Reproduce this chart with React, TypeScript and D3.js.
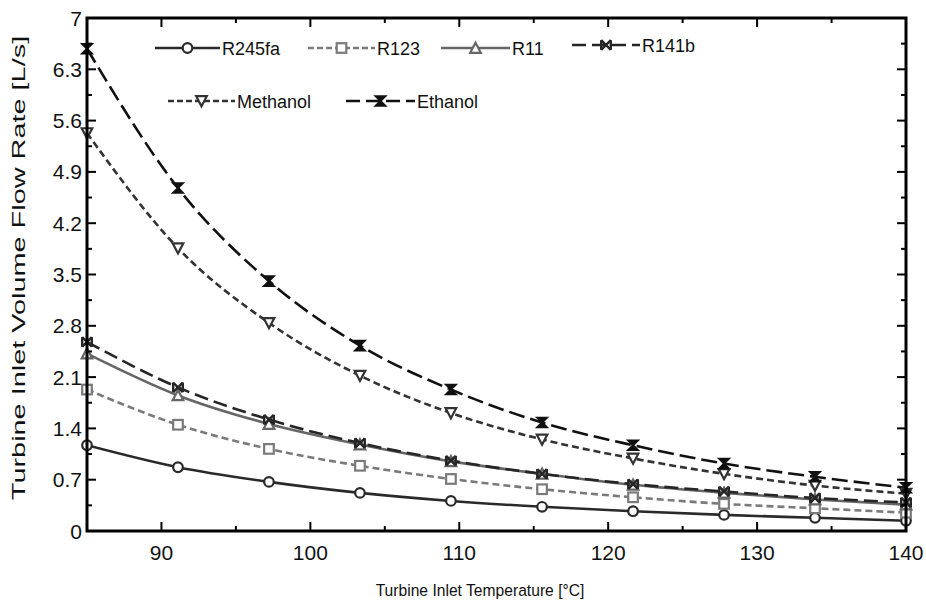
import React from "react";
import * as d3 from "d3";

const temps = [85, 91.11, 97.22, 103.33, 109.44, 115.56, 121.67, 127.78, 133.89, 140];
const r245fa = [1.17, 0.87, 0.67, 0.52, 0.41, 0.33, 0.27, 0.22, 0.18, 0.14];
const r123 = [1.93, 1.45, 1.12, 0.89, 0.71, 0.57, 0.46, 0.37, 0.31, 0.25];
const r11 = [2.42, 1.85, 1.46, 1.18, 0.95, 0.78, 0.63, 0.52, 0.43, 0.36];
const r141b = [2.58, 1.96, 1.52, 1.2, 0.96, 0.78, 0.64, 0.54, 0.45, 0.39];
const methanol = [5.43, 3.86, 2.84, 2.12, 1.61, 1.25, 0.99, 0.78, 0.62, 0.51];
const ethanol = [6.58, 4.68, 3.41, 2.53, 1.93, 1.48, 1.17, 0.92, 0.74, 0.59];

const xTicks = [90, 100, 110, 120, 130, 140];
const xMinor = [95, 105, 115, 125, 135];
const yTicks = [0, 0.7, 1.4, 2.1, 2.8, 3.5, 4.2, 4.9, 5.6, 6.3, 7];
const yTickLabels = ["0", "0.7", "1.4", "2.1", "2.8", "3.5", "4.2", "4.9", "5.6", "6.3", "7"];
const yMinor = [0.35, 1.05, 1.75, 2.45, 3.15, 3.85, 4.55, 5.25, 5.95, 6.65];

type S = { name: string; values: number[]; color: string; dash: string; legendDash: string; marker: string };
const series: S[] = [
  { name: "R245fa", values: r245fa, color: "#2a2a2a", dash: "none", legendDash: "none", marker: "circle" },
  { name: "R123", values: r123, color: "#7a7a7a", dash: "7,4", legendDash: "6,3", marker: "square" },
  { name: "R11", values: r11, color: "#666666", dash: "none", legendDash: "none", marker: "triUp" },
  { name: "R141b", values: r141b, color: "#262626", dash: "14,6", legendDash: "14,6", marker: "bowtie" },
  { name: "Methanol", values: methanol, color: "#333333", dash: "7,4", legendDash: "6,3", marker: "triDown" },
  { name: "Ethanol", values: ethanol, color: "#111111", dash: "16,6", legendDash: "14,6", marker: "hourglass" },
];

const legendPos = [
  { x1: 155, x2: 220, y: 48 },
  { x1: 308, x2: 375, y: 48 },
  { x1: 441, x2: 510, y: 48 },
  { x1: 572, x2: 640, y: 45 },
  { x1: 168, x2: 235, y: 101 },
  { x1: 346, x2: 415, y: 101 },
];

const FONT = "'Liberation Sans', Arial, sans-serif";

function Marker({ type, x, y, color }: { type: string; x: number; y: number; color: string }) {
  const s = 4.8;
  switch (type) {
    case "circle":
      return <circle cx={x} cy={y} r={s} fill="white" stroke={color} strokeWidth={2.2} />;
    case "square":
      return <rect x={x - s} y={y - s} width={2 * s} height={2 * s} fill="white" stroke={color} strokeWidth={2.2} />;
    case "triUp":
      return <path d={`M${x},${y - s - 0.5}L${x + s + 0.5},${y + s}L${x - s - 0.5},${y + s}Z`} fill="white" stroke={color} strokeWidth={2.2} />;
    case "triDown":
      return <path d={`M${x},${y + s + 0.5}L${x + s + 0.5},${y - s}L${x - s - 0.5},${y - s}Z`} fill="white" stroke={color} strokeWidth={2.2} />;
    case "bowtie":
      return (
        <g stroke={color} strokeWidth={2.4} fill={color}>
          <path d={`M${x - s},${y - s}L${x + s},${y + s}M${x + s},${y - s}L${x - s},${y + s}`} />
          <line x1={x - s} y1={y - s} x2={x - s} y2={y + s} />
          <line x1={x + s} y1={y - s} x2={x + s} y2={y + s} />
        </g>
      );
    case "hourglass":
      return (
        <path
          d={`M${x - s},${y - s}L${x + s},${y - s}L${x - s},${y + s}L${x + s},${y + s}Z`}
          fill={color}
          stroke={color}
          strokeWidth={2}
        />
      );
    default:
      return null;
  }
}

export default function App() {
  const W = 926, H = 600;
  const left = 87, right = 906, top = 18, bottom = 531;
  const x = d3.scaleLinear().domain([85, 140]).range([left, right]);
  const y = d3.scaleLinear().domain([0, 7]).range([bottom, top]);
  const line = d3
    .line<number>()
    .x((_, i) => x(temps[i]))
    .y((v) => y(v))
    .curve(d3.curveMonotoneX);

  const majLen = 9, minLen = 5;

  return (
    <svg width={W} height={H} style={{ position: "absolute", left: 0, top: 0, background: "white" }}>
      <rect x={0} y={0} width={W} height={H} fill="white" />
      <defs>
        <clipPath id="plot">
          <rect x={left} y={top} width={right - left} height={bottom - top} />
        </clipPath>
      </defs>
      <g clipPath="url(#plot)">
        {series.map((s) => (
          <path
            key={s.name}
            d={line(s.values) || ""}
            fill="none"
            stroke={s.color}
            strokeWidth={2.6}
            strokeDasharray={s.dash}
          />
        ))}
      </g>
      {series.map((s) => (
        <g key={s.name + "m"}>
          {s.values.map((v, i) => (
            <Marker key={i} type={s.marker} x={x(temps[i])} y={y(v)} color={s.color} />
          ))}
        </g>
      ))}

      <g stroke="black" strokeWidth={2}>
        {xTicks.map((t) => (
          <g key={"xt" + t}>
            <line x1={x(t)} x2={x(t)} y1={bottom} y2={bottom - majLen} />
            <line x1={x(t)} x2={x(t)} y1={top} y2={top + majLen} />
          </g>
        ))}
        {xMinor.map((t) => (
          <g key={"xm" + t}>
            <line x1={x(t)} x2={x(t)} y1={bottom} y2={bottom - minLen} />
            <line x1={x(t)} x2={x(t)} y1={top} y2={top + minLen} />
          </g>
        ))}
        {yTicks.map((t) => (
          <g key={"yt" + t}>
            <line x1={left} x2={left + majLen} y1={y(t)} y2={y(t)} />
            <line x1={right} x2={right - majLen} y1={y(t)} y2={y(t)} />
          </g>
        ))}
        {yMinor.map((t) => (
          <g key={"ym" + t}>
            <line x1={left} x2={left + minLen} y1={y(t)} y2={y(t)} />
            <line x1={right} x2={right - minLen} y1={y(t)} y2={y(t)} />
          </g>
        ))}
      </g>
      <rect x={left} y={top} width={right - left} height={bottom - top} fill="none" stroke="black" strokeWidth={3} />

      {xTicks.map((t) => (
        <text key={"xl" + t} x={x(t)} y={bottom + 29} textAnchor="middle" fontFamily={FONT} fontSize={21} fill="#111">
          {t}
        </text>
      ))}
      {yTicks.map((t, i) => (
        <text key={"yl" + t} x={left - 5} y={y(t) + 7.5} textAnchor="end" fontFamily={FONT} fontSize={21} fill="#111">
          {yTickLabels[i]}
        </text>
      ))}

      <text
        transform={`translate(480,596) scale(0.92,1)`}
        textAnchor="middle"
        fontFamily={FONT}
        fontSize={17}
        fill="#111"
      >
        Turbine Inlet Temperature [°C]
      </text>
      <text
        transform={`translate(25,268) rotate(-90) scale(1.52,1)`}
        textAnchor="middle"
        fontFamily={FONT}
        fontSize={19}
        fill="#111"
      >
        Turbine Inlet Volume Flow Rate [L/s]
      </text>

      {series.map((s, i) => {
        const p = legendPos[i];
        const mx = (p.x1 + p.x2) / 2;
        return (
          <g key={"lg" + s.name}>
            <line x1={p.x1} x2={p.x2} y1={p.y} y2={p.y} stroke={s.color} strokeWidth={2.6} strokeDasharray={s.legendDash} />
            <Marker type={s.marker} x={mx} y={p.y} color={s.color} />
            <text x={p.x2 + 2} y={p.y + 6.5} fontFamily={FONT} fontSize={18} fill="#111">
              {s.name}
            </text>
          </g>
        );
      })}
    </svg>
  );
}
